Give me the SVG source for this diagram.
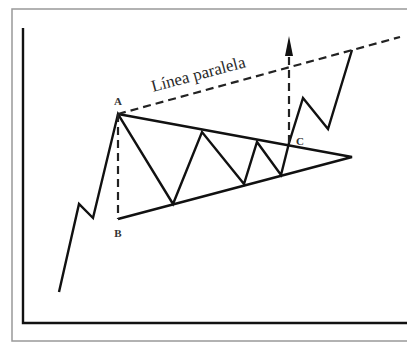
<svg xmlns="http://www.w3.org/2000/svg" width="407" height="343" viewBox="0 0 407 343">
<style>
.solid{fill:none;stroke:#111;stroke-width:2.4;stroke-linejoin:miter;stroke-linecap:butt}
.dash{fill:none;stroke:#222;stroke-width:2.2;stroke-dasharray:8 5}
.lbl{font-family:"Liberation Serif",serif;font-size:11px;font-weight:bold;fill:#333}
</style>
<rect width="407" height="343" fill="#fff"/>
<rect x="12" y="9" width="400" height="332" fill="none" stroke="#999" stroke-width="1.5"/>
<g id="axes">
<path class="solid" d="M23 28 L23 323 L407 323"/>
</g>
<g id="connectors">
<path class="solid" d="M59 292 L79 204 L93 218 L118 114 L173 204 L202 132 L244 184 L257 142 L281 175 L289 143 L303 98 L328 129 L352 50"/>
<path class="solid" d="M118 114 L352 157 L118 219"/>
<path class="dash" d="M118 114 L118 219"/>
<path class="dash" d="M118 114 L400 37"/>
<path class="dash" d="M289 143 L289 56"/>
<path d="M289 36 L293 56 L285 56 Z" fill="#111"/>
</g>
<g id="labels">
<text class="lbl" x="118" y="105" text-anchor="middle">A</text>
<text class="lbl" x="118" y="237" text-anchor="middle">B</text>
<text class="lbl" x="300" y="145" text-anchor="middle">C</text>
<text x="153" y="92" transform="rotate(-15 153 92)" style="font-family:'Liberation Serif',serif;font-size:17px;fill:#2a2a2a">Línea paralela</text>
</g>
</svg>
